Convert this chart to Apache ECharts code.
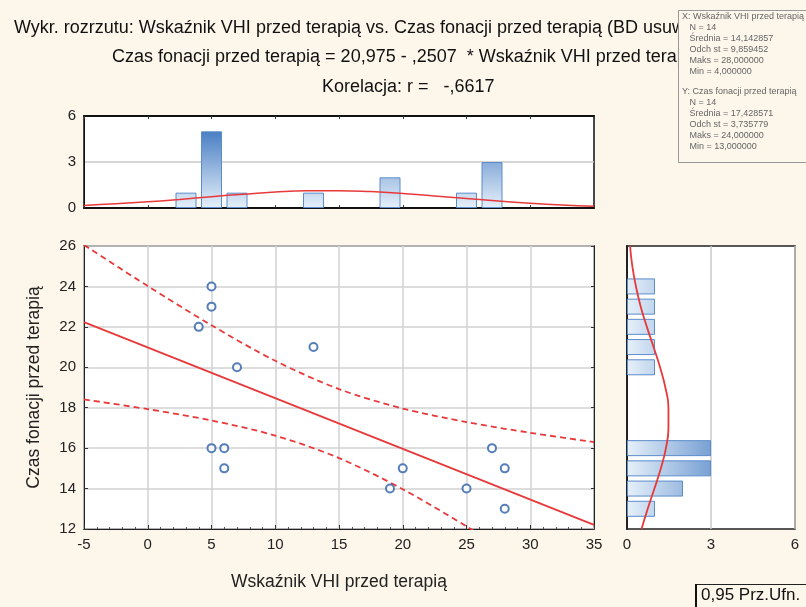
<!DOCTYPE html>
<html>
<head>
<meta charset="utf-8">
<script src="https://cdn.jsdelivr.net/npm/echarts@6/dist/echarts.min.js"></script>
<style>
html,body{margin:0;padding:0;background:#fdf6ea;}
#main{width:806px;height:607px;}
</style>
</head>
<body>
<div id="main"></div>
<script>
// punkty: Wskaźnik VHI (x) i Czas fonacji (y)
var vhi = [4, 5, 5, 5, 6, 6, 7, 13, 19, 20, 25, 27, 28, 28];
var czas = [22, 24, 23, 16, 16, 15, 20, 21, 14, 15, 14, 16, 15, 13];

// histogram górny (środki przedziałów i liczności)
var histXMid = [3, 5, 7, 13, 19, 25, 27];
var histXCnt = [1, 5, 1, 1, 2, 1, 3];
// krzywa normalna górna
var normXAt = [-5, -2.5, 0, 2.5, 5, 7.5, 10, 12.5, 15, 17.5, 20, 22.5, 25, 27.5, 30, 32.5, 35];
var normXVal = [0.17, 0.27, 0.40, 0.56, 0.74, 0.90, 1.04, 1.12, 1.13, 1.07, 0.95, 0.79, 0.62, 0.45, 0.31, 0.20, 0.12];

// histogram prawy (kategorie osi Y = wartości czasu)
var yKat = ['12', '13', '14', '15', '16', '17', '18', '19', '20', '21', '22', '23', '24', '25', '26'];
var histYMid = ['13', '14', '15', '16', '20', '21', '22', '23', '24'];
var histYCnt = [1, 2, 3, 3, 1, 1, 1, 1, 1];
var normYVal = [0.52, 0.74, 0.98, 1.21, 1.39, 1.48, 1.48, 1.37, 1.18, 0.95, 0.71, 0.49, 0.32, 0.19, 0.11];

// linia regresji i przedział ufności 0,95
var regX = [-5, 35];
var regY = [22.23, 12.20];
var pasX = [-5, 0, 5, 10, 15, 20, 25, 30, 35];
var pasGora = [26.05, 24.02, 22.08, 20.32, 18.92, 17.96, 17.29, 16.76, 16.30];
var pasDol = [18.41, 17.93, 17.37, 16.62, 15.51, 13.97, 12.13, 10.15, 8.11];

var statyX = ['X: Wskaźnik VHI przed terapią', '   N = 14', '   Średnia = 14,142857', '   Odch st = 9,859452', '   Maks = 28,000000', '   Min = 4,000000'];
var statyY = ['Y: Czas fonacji przed terapią', '   N = 14', '   Średnia = 17,428571', '   Odch st = 3,735779', '   Maks = 24,000000', '   Min = 13,000000'];

function pary(a, b) { return a.map(function (v, i) { return [v, b[i]]; }); }

var myChart = echarts.init(document.getElementById('main'));
var font = 'Liberation Sans, Arial, sans-serif';
var red = '#e8393a';
var gradTop = new echarts.graphic.LinearGradient(0, 116, 0, 208, [
    {offset: 0, color: '#2a68b8'}, {offset: 1, color: '#e6f0fa'}], true);
var gradRight = new echarts.graphic.LinearGradient(627, 0, 770, 0, [
    {offset: 0, color: '#e6f0fa'}, {offset: 1, color: '#2a68b8'}], true);

var axLbl = {color: '#222', fontSize: 15, fontFamily: font};
var hidden = {show: false};

var option = {
    backgroundColor: '#fdf6ea',
    animation: false,
    grid: [
        {left: 84, width: 510, top: 116, height: 92, show: true, backgroundColor: '#fff', borderColor: '#111', borderWidth: 1.5},
        {left: 84, width: 510, top: 246, height: 283, show: true, backgroundColor: '#fff', borderColor: '#222', borderWidth: 1.5},
        {left: 627, width: 168, top: 246, height: 283, show: true, backgroundColor: '#fff', borderColor: '#222', borderWidth: 1.5}
    ],
    xAxis: [
        {gridIndex: 0, type: 'value', min: -5, max: 35, interval: 5,
         axisLabel: hidden, axisLine: {lineStyle: {color: '#111', width: 2}},
         axisTick: {inside: true, length: 3, lineStyle: {color: '#333'}}, splitLine: hidden},
        {gridIndex: 0, type: 'value', min: -5, max: 35, interval: 5, position: 'top',
         axisLabel: hidden, axisLine: {lineStyle: {color: '#111', width: 2}},
         axisTick: {inside: true, length: 3, lineStyle: {color: '#333'}}, splitLine: hidden},
        {gridIndex: 1, type: 'value', min: -5, max: 35, interval: 5,
         axisLabel: axLbl, axisLine: {lineStyle: {color: '#222'}},
         axisTick: {inside: true, length: 4, lineStyle: {color: '#333'}},
         minorTick: {show: true, splitNumber: 5, length: 2, lineStyle: {color: '#555'}},
         splitLine: {lineStyle: {color: '#d2d2d2', width: 1.5}},
         name: 'Wskaźnik VHI przed terapią', nameLocation: 'middle', nameGap: 44,
         nameTextStyle: {color: '#222', fontSize: 17.5, fontFamily: font}},
        {gridIndex: 2, type: 'value', min: 0, max: 6, interval: 3,
         axisLabel: axLbl, axisLine: {lineStyle: {color: '#222'}},
         axisTick: hidden, splitLine: {lineStyle: {color: '#c8c8c8', width: 1.5}}}
    ],
    yAxis: [
        {gridIndex: 0, type: 'value', min: 0, max: 6, interval: 3,
         axisLabel: axLbl, axisLine: {show: true, onZero: false, lineStyle: {color: '#111'}},
         axisTick: hidden, splitLine: {lineStyle: {color: '#c8c8c8', width: 1.5}}},
        {gridIndex: 1, type: 'value', min: 12, max: 26, interval: 2,
         axisLabel: axLbl, axisLine: {show: true, onZero: false, lineStyle: {color: '#222'}},
         axisTick: {inside: true, length: 4, lineStyle: {color: '#333'}},
         splitLine: {lineStyle: {color: '#d2d2d2', width: 1.5}},
         name: 'Czas fonacji przed terapią', nameLocation: 'middle', nameGap: 41, nameRotate: 90,
         nameTextStyle: {color: '#222', fontSize: 17.5, fontFamily: font}},
        {gridIndex: 1, type: 'value', min: 12, max: 26, interval: 2, position: 'right',
         axisLabel: hidden, axisLine: {show: true, onZero: false, lineStyle: {color: '#222'}},
         axisTick: {inside: true, length: 3, lineStyle: {color: '#333'}}, splitLine: hidden},
        {gridIndex: 2, type: 'category', data: yKat, boundaryGap: false,
         axisLabel: hidden, axisLine: {show: true, onZero: false, lineStyle: {color: '#222', width: 2}},
         axisTick: hidden, splitLine: hidden}
    ],
    series: [
        {type: 'bar', xAxisIndex: 0, yAxisIndex: 0, barWidth: 21,
         data: pary(histXMid, histXCnt),
         itemStyle: {color: gradTop, borderColor: '#5b8ccb', borderWidth: 1}},
        {type: 'line', xAxisIndex: 0, yAxisIndex: 0, smooth: true, symbol: 'none',
         data: pary(normXAt, normXVal), lineStyle: {color: red, width: 1.5}},
        {type: 'bar', xAxisIndex: 3, yAxisIndex: 3, barWidth: 16,
         data: pary(histYCnt, histYMid),
         itemStyle: {color: gradRight, borderColor: '#5b8ccb', borderWidth: 1}},
        {type: 'line', xAxisIndex: 3, yAxisIndex: 3, smooth: true, symbol: 'none',
         data: pary(normYVal, yKat), lineStyle: {color: red, width: 1.8}},
        {type: 'line', xAxisIndex: 2, yAxisIndex: 1, symbol: 'none',
         data: pary(regX, regY), lineStyle: {color: red, width: 1.8}},
        {type: 'line', xAxisIndex: 2, yAxisIndex: 1, symbol: 'none', smooth: 0.3,
         data: pary(pasX, pasGora), lineStyle: {color: red, width: 1.8, type: [6, 4]}},
        {type: 'line', xAxisIndex: 2, yAxisIndex: 1, symbol: 'none', smooth: 0.3,
         data: pary(pasX, pasDol), lineStyle: {color: red, width: 1.8, type: [6, 4]}},
        {type: 'scatter', xAxisIndex: 2, yAxisIndex: 1, symbol: 'circle', symbolSize: 8,
         data: pary(vhi, czas),
         itemStyle: {color: '#fff', borderColor: '#2c5ea8', borderWidth: 2}, z: 5}
    ],
    graphic: [
        {type: 'text', left: 14, top: 19, z: 10,
         style: {text: 'Wykr. rozrzutu: Wskaźnik VHI przed terapią vs. Czas fonacji przed terapią (BD usuwano przypadkami)',
                 fill: '#111', font: '18px ' + font}},
        {type: 'text', left: 112, top: 48, z: 10,
         style: {text: 'Czas fonacji przed terapią = 20,975 - ,2507  * Wskaźnik VHI przed terapią',
                 fill: '#111', font: '18px ' + font}},
        {type: 'text', left: 322, top: 78, z: 10,
         style: {text: 'Korelacja: r =   -,6617', fill: '#111', font: '18px ' + font}},
        {type: 'rect', left: 678, top: 10, z: 20,
         shape: {width: 140, height: 152},
         style: {fill: '#fdf6ea', stroke: '#999', lineWidth: 1}},
        {type: 'text', left: 682, top: 11, z: 21,
         style: {text: statyX.join('\n'), fill: '#666', font: '9px ' + font, lineHeight: 11}},
        {type: 'text', left: 682, top: 86, z: 21,
         style: {text: statyY.join('\n'), fill: '#666', font: '9px ' + font, lineHeight: 11}},
        {type: 'rect', left: 695, top: 584, z: 20,
         shape: {width: 120, height: 30},
         style: {fill: '#fdf6ea', stroke: '#222', lineWidth: 1}},
        {type: 'rect', left: 695, top: 584, z: 21,
         shape: {width: 2, height: 30}, style: {fill: '#111'}},
        {type: 'text', left: 701, top: 587, z: 22,
         style: {text: '0,95 Prz.Ufn.', fill: '#111', font: '17px ' + font}}
    ]
};

myChart.setOption(option);
</script>
</body>
</html>
